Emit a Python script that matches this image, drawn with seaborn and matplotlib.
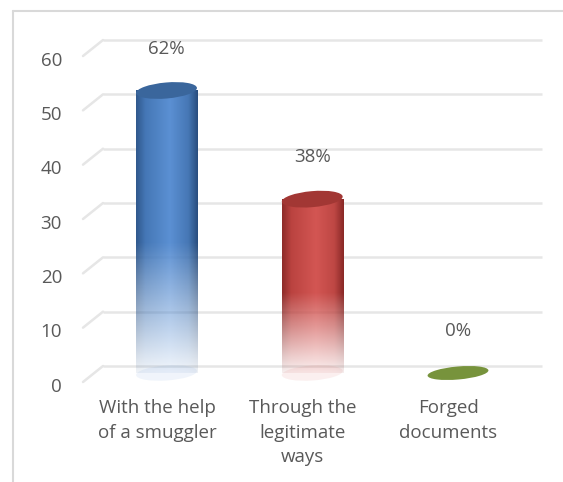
import numpy as np
import pandas as pd
import matplotlib
matplotlib.use("Agg")
import matplotlib.pyplot as plt
import matplotlib.transforms as mtrans
from matplotlib.patches import Ellipse
from matplotlib.lines import Line2D
from matplotlib.colors import to_rgb
import seaborn as sns

# --------- Data ----------
categories = ["With the help\nof a smuggler", "Through the\nlegitimate\nways", "Forged\ndocuments"]
counts = [52, 32, 0]
pct_labels = ["62%", "38%", "0%"]
y_ticks = [0, 10, 20, 30, 40, 50, 60]

# --------- Style ----------
sns.set_style("white")
plt.rcParams["font.family"] = ["Open Sans", "DejaVu Sans"]

TEXT = "#595959"
GRID = "#e6e6e6"
FS = 13.5
# cylinder shading stops: left edge, left mid, highlight, right mid, right edge, cap
SHADES = [
    ("#30598d", "#4577b6", "#5b90d3", "#4677b5", "#2a4f7f", "#3a669c"),
    ("#8f2c2a", "#bb4340", "#d35653", "#be4744", "#8a2927", "#a23734"),
    ("#6f8a37", "#7d9a40", "#8aa84a", "#7d9a40", "#6f8a37", "#77933c"),
]

DPI = 100
fig = plt.figure(figsize=(5.63, 4.82), dpi=DPI)
W, H = 563, 482
# axes: left at gridline start, bottom at bar base
ax_l, ax_r, ax_top, ax_base = 103, 542, 40, 373
ax = fig.add_axes([ax_l / W, (H - ax_base) / H, (ax_r - ax_l) / W, (ax_base - ax_top) / H])

df = pd.DataFrame({"category": categories, "count": counts})
sns.barplot(data=df, x="category", y="count", hue="category",
            palette=[s[2] for s in SHADES], width=0.419, legend=False, ax=ax)

px_per_unit = 5.433
spacing = 145.75
xlim = (-(166.5 - ax_l) / spacing, -(166.5 - ax_l) / spacing + (ax_r - ax_l) / spacing)
ylim = (0, (ax_base - ax_top) / px_per_unit)
ax.set_xlim(*xlim)
ax.set_ylim(*ylim)

# back wall gridlines (3D look: shifted up, with a short floor diagonal)
grid_off = 7 / px_per_unit
diag_dx = -20 / (ax_r - ax_l)
diag_dy = -16 / px_per_unit
ytrans = ax.get_yaxis_transform()
for v in y_ticks:
    ax.plot([0, 1], [v + grid_off, v + grid_off], transform=ytrans, color=GRID,
            lw=1.8, zorder=0.5, clip_on=False, solid_capstyle="butt")
    ax.plot([diag_dx, 0], [v + grid_off + diag_dy, v + grid_off], transform=ytrans,
            color=GRID, lw=1.8, zorder=0.5, clip_on=False)

# cylinders
u = np.linspace(0, 1, 80)
t = np.linspace(0, 1, 240)
alpha = 1 - 0.92 * np.clip((t - 0.54) / 0.46, 0, 1)
for patch, shade, lbl in zip(ax.patches, SHADES, pct_labels):
    x0, w, h = patch.get_x(), patch.get_width(), patch.get_height()
    xc = x0 + w / 2
    patch.set_visible(False)
    cols = np.array([to_rgb(c) for c in shade[:5]])
    stops = [0, 0.15, 0.55, 0.85, 1]
    rgb = np.stack([np.interp(u, stops, cols[:, k]) for k in range(3)], axis=-1)
    w_in = w * spacing / DPI
    if h > 0:
        img = np.zeros((len(t), len(u), 4))
        img[..., :3] = rgb[None, :, :]
        img[..., 3] = alpha[:, None]
        ax.imshow(img, extent=(x0, x0 + w, 0, h), aspect="auto", origin="upper",
                  interpolation="bilinear", zorder=2)
        base = Ellipse((0, 0), w_in, 0.15, angle=4, fc=shade[2], ec="none", alpha=0.09,
                       transform=fig.dpi_scale_trans + mtrans.ScaledTranslation(xc, 0, ax.transData),
                       zorder=1.9, clip_on=False)
        ax.add_artist(base)
    cap = Ellipse((0, 0), w_in, 0.16 if h > 0 else 0.13, angle=5, fc=shade[5], ec="none",
                  transform=fig.dpi_scale_trans + mtrans.ScaledTranslation(xc, h, ax.transData),
                  zorder=3, clip_on=False)
    ax.add_artist(cap)
    ax.annotate(lbl, (xc, h), xytext=(0, 30), textcoords="offset points",
                ha="center", va="center", fontsize=FS, color=TEXT)

ax.set_xlim(*xlim)
ax.set_ylim(*ylim)

# axes text
ax.set_yticks(y_ticks)
ax.set_yticklabels([str(v) for v in y_ticks])
ax.tick_params(axis="y", length=0, pad=41 * 72 / DPI, labelsize=FS, labelcolor=TEXT)
ax.tick_params(axis="x", length=0, pad=19, labelsize=FS, labelcolor=TEXT)
ax.set_xlabel("")
ax.set_ylabel("")
for s in ax.spines.values():
    s.set_visible(False)
ydown = mtrans.ScaledTranslation(0, -0.115, fig.dpi_scale_trans)
for lab in ax.get_yticklabels():
    lab.set_transform(lab.get_transform() + ydown)
xleft = mtrans.ScaledTranslation(-0.095, 0, fig.dpi_scale_trans)
for lab in ax.get_xticklabels():
    lab.set_transform(lab.get_transform() + xleft)
    lab.set_linespacing(1.45)

# chart frame (left and top edges visible)
fig.add_artist(Line2D([13 / W, 13 / W], [0, 1 - 11 / H], color="#d9d9d9", lw=1.5,
                      transform=fig.transFigure))
fig.add_artist(Line2D([13 / W, 1], [1 - 11 / H, 1 - 11 / H], color="#d9d9d9", lw=1.5,
                      transform=fig.transFigure))

fig.savefig("out.png", dpi=DPI, facecolor="white")
